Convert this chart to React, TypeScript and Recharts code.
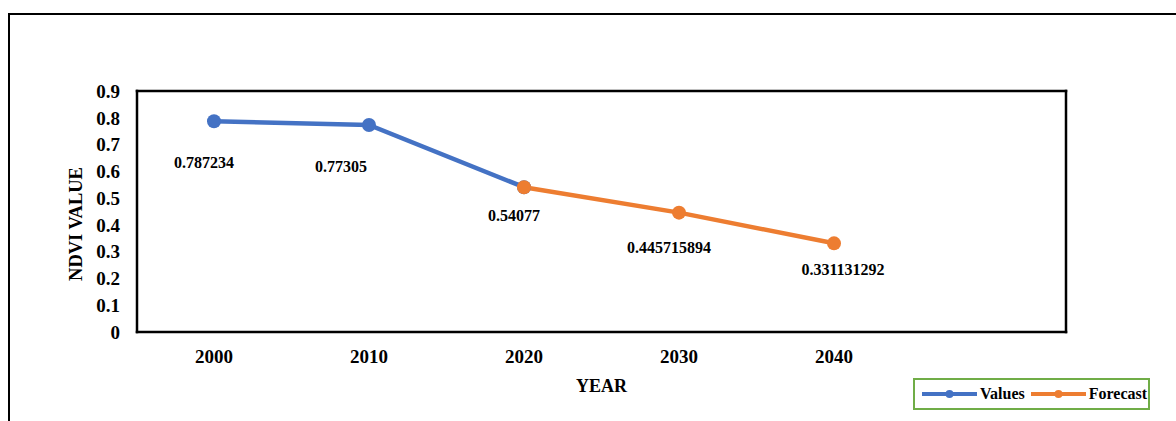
import React from "react";
import { LineChart, Line, XAxis, YAxis, Legend, LabelList } from "recharts";

// chart values
const years = ["2000", "2010", "2020", "2030", "2040"];
const values = [0.787234, 0.77305, 0.54077, null, null];
const forecast = [null, null, 0.54077, 0.445715894, 0.331131292];
const yTicks = [0, 0.1, 0.2, 0.3, 0.4, 0.5, 0.6, 0.7, 0.8, 0.9];
const labelText = ["0.787234", "0.77305", "0.54077", "0.445715894", "0.331131292"];

// where Excel put each data label, relative to its dot
const labelShift = [
  [-10, 41.5],
  [-28, 42],
  [-10, 28],
  [-10, 35],
  [9, 26],
];

const data = years.map((year, i) => ({
  year,
  Values: values[i],
  Forecast: forecast[i],
}));

const FONT = '"Liberation Serif", "Times New Roman", serif';
const BLUE = "#4472C4";
const ORANGE = "#ED7D31";

const tickStyle = { fill: "#000", fontSize: 19, fontWeight: 700, fontFamily: FONT };
const frame = { stroke: "#000", strokeWidth: 2.5, strokeLinecap: "square" as const };

function makeLabel(series: "Values" | "Forecast") {
  return (p: any) => {
    let i = typeof p.index === "number" ? p.index : -1;
    if (i < 0) i = (series === "Values" ? values : forecast).indexOf(p.value);
    if (i < 0 || p.value == null) return null;
    // 2020 is shared, the forecast series owns that label
    if (series === "Values" && forecast[i] != null) return null;
    const [dx, dy] = labelShift[i];
    return (
      <text
        x={p.x + dx}
        y={p.y + dy}
        textAnchor="middle"
        dominantBaseline="central"
        fill="#000"
        style={{ fontSize: 16, fontWeight: 700, fontFamily: FONT }}
      >
        {labelText[i]}
      </text>
    );
  };
}

function LegendBox() {
  const item = (color: string, name: string, gap: number) => (
    <div style={{ display: "flex", alignItems: "center", marginRight: gap }}>
      <svg width={55} height={12} style={{ marginRight: 3 }}>
        <line x1={0} y1={6} x2={55} y2={6} stroke={color} strokeWidth={4} />
        <circle cx={27.5} cy={6} r={4} fill={color} />
      </svg>
      <span style={{ fontFamily: FONT, fontWeight: 700, fontSize: 16, color: "#000" }}>{name}</span>
    </div>
  );
  return (
    <div
      style={{
        boxSizing: "border-box",
        width: 237,
        height: 32,
        border: "2px solid #70AD47",
        display: "flex",
        alignItems: "center",
        paddingLeft: 7,
        overflow: "hidden",
        whiteSpace: "nowrap",
      }}
    >
      {item(BLUE, "Values", 6)}
      {item(ORANGE, "Forecast", 0)}
    </div>
  );
}

export default function App() {
  return (
    <div
      style={{
        position: "absolute",
        left: 0,
        top: 0,
        width: 1176,
        height: 421,
        overflow: "hidden",
        background: "#fff",
      }}
    >
      <div
        style={{
          position: "absolute",
          left: 8,
          top: 13,
          width: 1400,
          height: 600,
          borderTop: "2.5px solid #000",
          borderLeft: "2.5px solid #000",
        }}
      />
      <LineChart
        width={1176}
        height={421}
        data={data}
        margin={{ top: 90, right: 109, left: 0, bottom: 19 }}
        style={{ position: "absolute", left: 0, top: 0 }}
      >
        <XAxis
          dataKey="year"
          height={70}
          padding={{ left: 77, right: 232 }}
          axisLine={frame}
          tickLine={false}
          tickSize={6}
          tickMargin={11.5}
          tick={tickStyle}
          interval={0}
          label={{
            value: "YEAR",
            position: "center",
            dy: 19,
            fill: "#000",
            fontSize: 18,
            fontWeight: 700,
            fontFamily: FONT,
          }}
        />
        <XAxis
          xAxisId="top"
          orientation="top"
          dataKey="year"
          height={1}
          padding={{ left: 77, right: 232 }}
          axisLine={frame}
          tick={false}
          tickLine={false}
        />
        <YAxis
          width={137}
          domain={[0, 0.9]}
          ticks={yTicks}
          interval={0}
          axisLine={frame}
          tickLine={false}
          tickSize={6}
          tickMargin={11}
          tick={tickStyle}
          label={{
            value: "NDVI VALUE",
            angle: -90,
            position: "center",
            dx: 7,
            dy: 12.5,
            fill: "#000",
            fontSize: 18.5,
            fontWeight: 700,
            fontFamily: FONT,
          }}
        />
        <YAxis
          yAxisId="right"
          orientation="right"
          width={1}
          domain={[0, 0.9]}
          axisLine={frame}
          tick={false}
          tickLine={false}
        />
        <Legend
          layout="vertical"
          align="center"
          verticalAlign="middle"
          content={() => <LegendBox />}
          wrapperStyle={{ left: 913, top: 378, width: 237, height: 32 }}
        />
        <Line
          dataKey="Values"
          stroke={BLUE}
          strokeWidth={4.5}
          dot={{ r: 7, fill: BLUE, stroke: BLUE, strokeWidth: 0 }}
          activeDot={false}
          isAnimationActive={false}
        >
          <LabelList dataKey="Values" content={makeLabel("Values")} />
        </Line>
        <Line
          dataKey="Forecast"
          stroke={ORANGE}
          strokeWidth={4.5}
          dot={{ r: 7, fill: ORANGE, stroke: ORANGE, strokeWidth: 0 }}
          activeDot={false}
          isAnimationActive={false}
        >
          <LabelList dataKey="Forecast" content={makeLabel("Forecast")} />
        </Line>
      </LineChart>
    </div>
  );
}
